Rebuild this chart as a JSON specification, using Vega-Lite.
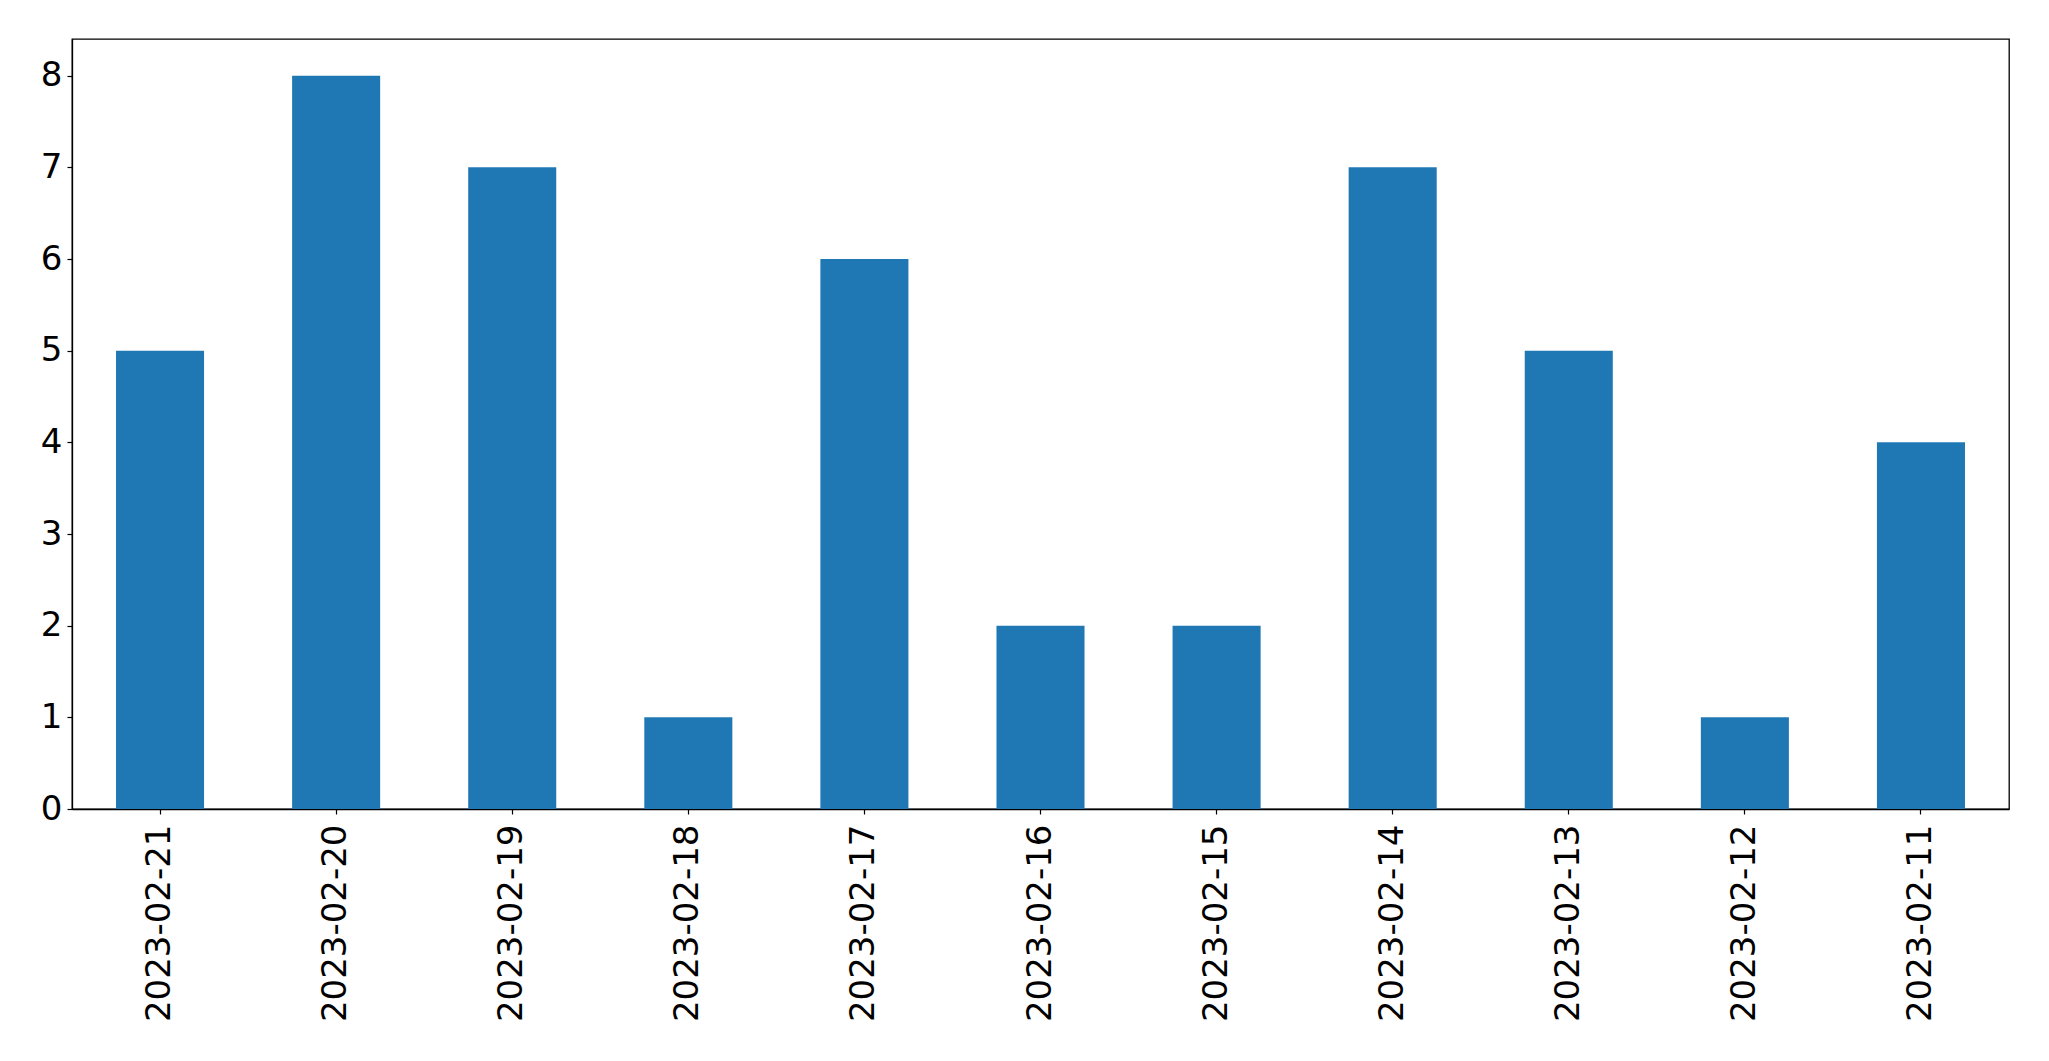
{
  "$schema": "https://vega.github.io/schema/vega-lite/v6.json",
  "autosize": "none",
  "padding": {"left": 72, "top": 39, "right": 40, "bottom": 252},
  "width": 1937,
  "height": 770,
  "background": "white",
  "config": {
    "view": {"stroke": "black", "strokeWidth": 1.3},
    "axis": {"grid": false, "domainColor": "black", "tickColor": "black", "labelColor": "black", "labelFont": "DejaVu Sans", "labelFontSize": 34, "labelLimit": 0, "tickSize": 5, "tickWidth": 1.2, "domainWidth": 1.3, "title": null}
  },
  "data": {
    "values": [
      {"date": "2023-02-21", "count": 5},
      {"date": "2023-02-20", "count": 8},
      {"date": "2023-02-19", "count": 7},
      {"date": "2023-02-18", "count": 1},
      {"date": "2023-02-17", "count": 6},
      {"date": "2023-02-16", "count": 2},
      {"date": "2023-02-15", "count": 2},
      {"date": "2023-02-14", "count": 7},
      {"date": "2023-02-13", "count": 5},
      {"date": "2023-02-12", "count": 1},
      {"date": "2023-02-11", "count": 4}
    ]
  },
  "mark": {"type": "bar", "color": "#1f77b4"},
  "encoding": {
    "x": {
      "field": "date", "type": "nominal", "sort": null,
      "scale": {"paddingInner": 0.5, "paddingOuter": 0.25},
      "axis": {"labelAngle": -90, "labelAlign": "right", "labelBaseline": "middle", "labelPadding": 10}
    },
    "y": {
      "field": "count", "type": "quantitative",
      "scale": {"domain": [0, 8.4], "nice": false, "zero": true},
      "axis": {"values": [0, 1, 2, 3, 4, 5, 6, 7, 8], "labelPadding": 5, "labelBaseline": "middle"}
    }
  }
}
